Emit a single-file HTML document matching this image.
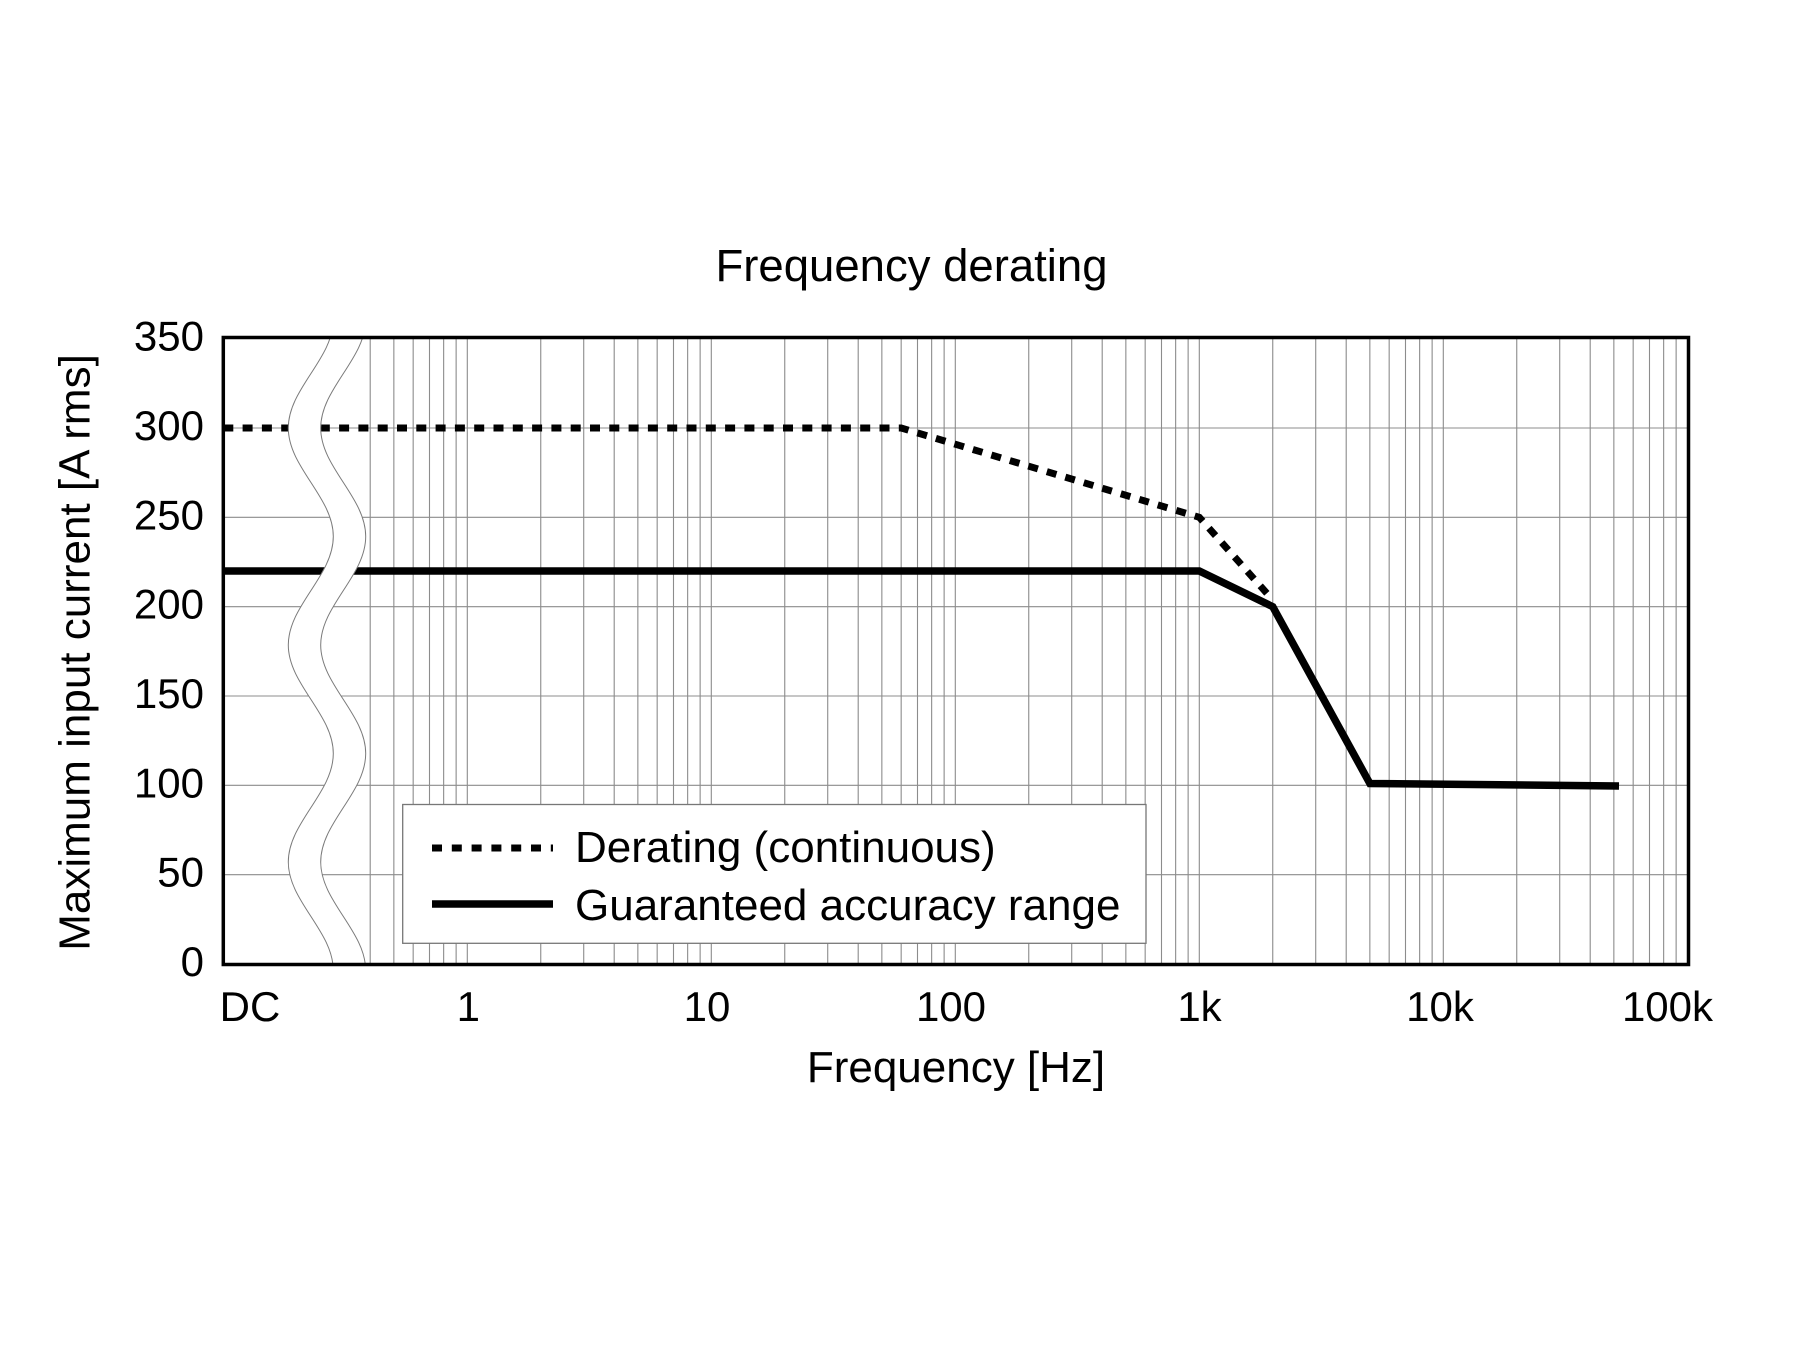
<!DOCTYPE html>
<html>
<head>
<meta charset="utf-8">
<style>
  html, body { margin:0; padding:0; background:#ffffff; }
  svg { display:block; }
  text { font-family: "Liberation Sans", Arial, Helvetica, sans-serif; fill:#000; }
</style>
</head>
<body>
<svg width="1800" height="1350" viewBox="0 0 1800 1350" xmlns="http://www.w3.org/2000/svg">
  <defs>
    <clipPath id="plotclip">
      <rect x="223.3" y="337.5" width="1465.2" height="627"/>
    </clipPath>
  </defs>
  <rect x="0" y="0" width="1800" height="1350" fill="#ffffff"/>

  <!-- Title -->
  <text x="911.5" y="281" font-size="45.5" text-anchor="middle">Frequency derating</text>

  <!-- Gridlines -->
  <g stroke="#8c8c8c" stroke-width="1.1" fill="none">
    <!-- horizontal -->
    <path d="M223.3 874.67 H1688.5 M223.3 785.33 H1688.5 M223.3 696 H1688.5 M223.3 606.67 H1688.5 M223.3 517.33 H1688.5 M223.3 428 H1688.5"/>
    <!-- vertical -->
    <path d="
      M370.2 337.5 V964.5 M393.85 337.5 V964.5 M413.17 337.5 V964.5 M429.5 337.5 V964.5 M443.65 337.5 V964.5 M456.13 337.5 V964.5 M467.3 337.5 V964.5
      M540.75 337.5 V964.5 M583.72 337.5 V964.5 M614.2 337.5 V964.5 M637.85 337.5 V964.5 M657.17 337.5 V964.5 M673.5 337.5 V964.5 M687.65 337.5 V964.5 M700.13 337.5 V964.5 M711.3 337.5 V964.5
      M784.75 337.5 V964.5 M827.72 337.5 V964.5 M858.2 337.5 V964.5 M881.85 337.5 V964.5 M901.17 337.5 V964.5 M917.5 337.5 V964.5 M931.65 337.5 V964.5 M944.13 337.5 V964.5 M955.3 337.5 V964.5
      M1028.75 337.5 V964.5 M1071.72 337.5 V964.5 M1102.2 337.5 V964.5 M1125.85 337.5 V964.5 M1145.17 337.5 V964.5 M1161.5 337.5 V964.5 M1175.65 337.5 V964.5 M1188.13 337.5 V964.5 M1199.3 337.5 V964.5
      M1272.75 337.5 V964.5 M1315.72 337.5 V964.5 M1346.2 337.5 V964.5 M1369.85 337.5 V964.5 M1389.17 337.5 V964.5 M1405.5 337.5 V964.5 M1419.65 337.5 V964.5 M1432.13 337.5 V964.5 M1443.3 337.5 V964.5
      M1516.75 337.5 V964.5 M1559.72 337.5 V964.5 M1590.2 337.5 V964.5 M1613.85 337.5 V964.5 M1633.17 337.5 V964.5 M1649.5 337.5 V964.5 M1663.65 337.5 V964.5 M1676.13 337.5 V964.5"/>
  </g>

  <!-- Data series -->
  <g clip-path="url(#plotclip)" fill="none">
    <!-- Derating (continuous): dotted -->
    <path d="M223.3 428 L901.2 428 L1199.3 517.3 L1271 598" stroke="#000" stroke-width="7" stroke-dasharray="10 9.3" stroke-linejoin="miter"/>
    <!-- Guaranteed accuracy range: solid -->
    <path d="M223.3 571 L1199.3 571 L1272.75 606.7 L1369.9 783.5 L1619 786" stroke="#000" stroke-width="7.5" stroke-linejoin="miter" stroke-miterlimit="10"/>
  </g>

  <!-- Axis break band -->
  <g clip-path="url(#plotclip)">
    <path fill="#ffffff" stroke="none" d="M333.3 319.5 C333.3 358.9 288.3 388.6 288.3 428 C288.3 467.4 333.3 497.1 333.3 536.5 C333.3 575.9 288.3 605.6 288.3 645 C288.3 684.4 333.3 714.1 333.3 753.5 C333.3 792.9 288.3 822.6 288.3 862 C288.3 901.4 333.3 931.1 333.3 970.5 L365.7 970.5 C365.7 931.1 320.7 901.4 320.7 862 C320.7 822.6 365.7 792.9 365.7 753.5 C365.7 714.1 320.7 684.4 320.7 645 C320.7 605.6 365.7 575.9 365.7 536.5 C365.7 497.1 320.7 467.4 320.7 428 C320.7 388.6 365.7 358.9 365.7 319.5 Z"/>
    <path fill="none" stroke="#7a7a7a" stroke-width="1" d="M333.3 319.5 C333.3 358.9 288.3 388.6 288.3 428 C288.3 467.4 333.3 497.1 333.3 536.5 C333.3 575.9 288.3 605.6 288.3 645 C288.3 684.4 333.3 714.1 333.3 753.5 C333.3 792.9 288.3 822.6 288.3 862 C288.3 901.4 333.3 931.1 333.3 970.5"/>
    <path fill="none" stroke="#7a7a7a" stroke-width="1" d="M365.7 319.5 C365.7 358.9 320.7 388.6 320.7 428 C320.7 467.4 365.7 497.1 365.7 536.5 C365.7 575.9 320.7 605.6 320.7 645 C320.7 684.4 365.7 714.1 365.7 753.5 C365.7 792.9 320.7 822.6 320.7 862 C320.7 901.4 365.7 931.1 365.7 970.5"/>
  </g>

  <!-- Legend -->
  <rect x="402.7" y="804.5" width="743.3" height="138.8" fill="#ffffff" stroke="#777777" stroke-width="1.3"/>
  <line x1="432" y1="848" x2="553" y2="848" stroke="#000" stroke-width="7" stroke-dasharray="10 9.8"/>
  <line x1="432" y1="904" x2="553" y2="904" stroke="#000" stroke-width="7.5"/>
  <text x="575" y="862" font-size="44">Derating (continuous)</text>
  <text x="575" y="920" font-size="44">Guaranteed accuracy range</text>

  <!-- Frame -->
  <rect x="223.3" y="337.5" width="1465.2" height="627" fill="none" stroke="#000" stroke-width="3.5"/>

  <!-- Y tick labels -->
  <g font-size="42" text-anchor="end">
    <text x="204" y="350.5">350</text>
    <text x="204" y="440">300</text>
    <text x="204" y="529.3">250</text>
    <text x="204" y="618.7">200</text>
    <text x="204" y="708">150</text>
    <text x="204" y="797.3">100</text>
    <text x="204" y="886.7">50</text>
    <text x="204" y="976">0</text>
  </g>

  <!-- X tick labels -->
  <g font-size="42" text-anchor="middle">
    <text x="250" y="1021">DC</text>
    <text x="468.3" y="1021">1</text>
    <text x="707" y="1021">10</text>
    <text x="951" y="1021">100</text>
    <text x="1199.5" y="1021">1k</text>
    <text x="1440" y="1021">10k</text>
    <text x="1667.5" y="1021">100k</text>
  </g>

  <!-- Axis titles -->
  <text x="956" y="1082" font-size="44" text-anchor="middle">Frequency [Hz]</text>
  <text transform="translate(89.5 652.5) rotate(-90)" x="0" y="0" font-size="44" text-anchor="middle">Maximum input current [A rms]</text>
</svg>
</body>
</html>
